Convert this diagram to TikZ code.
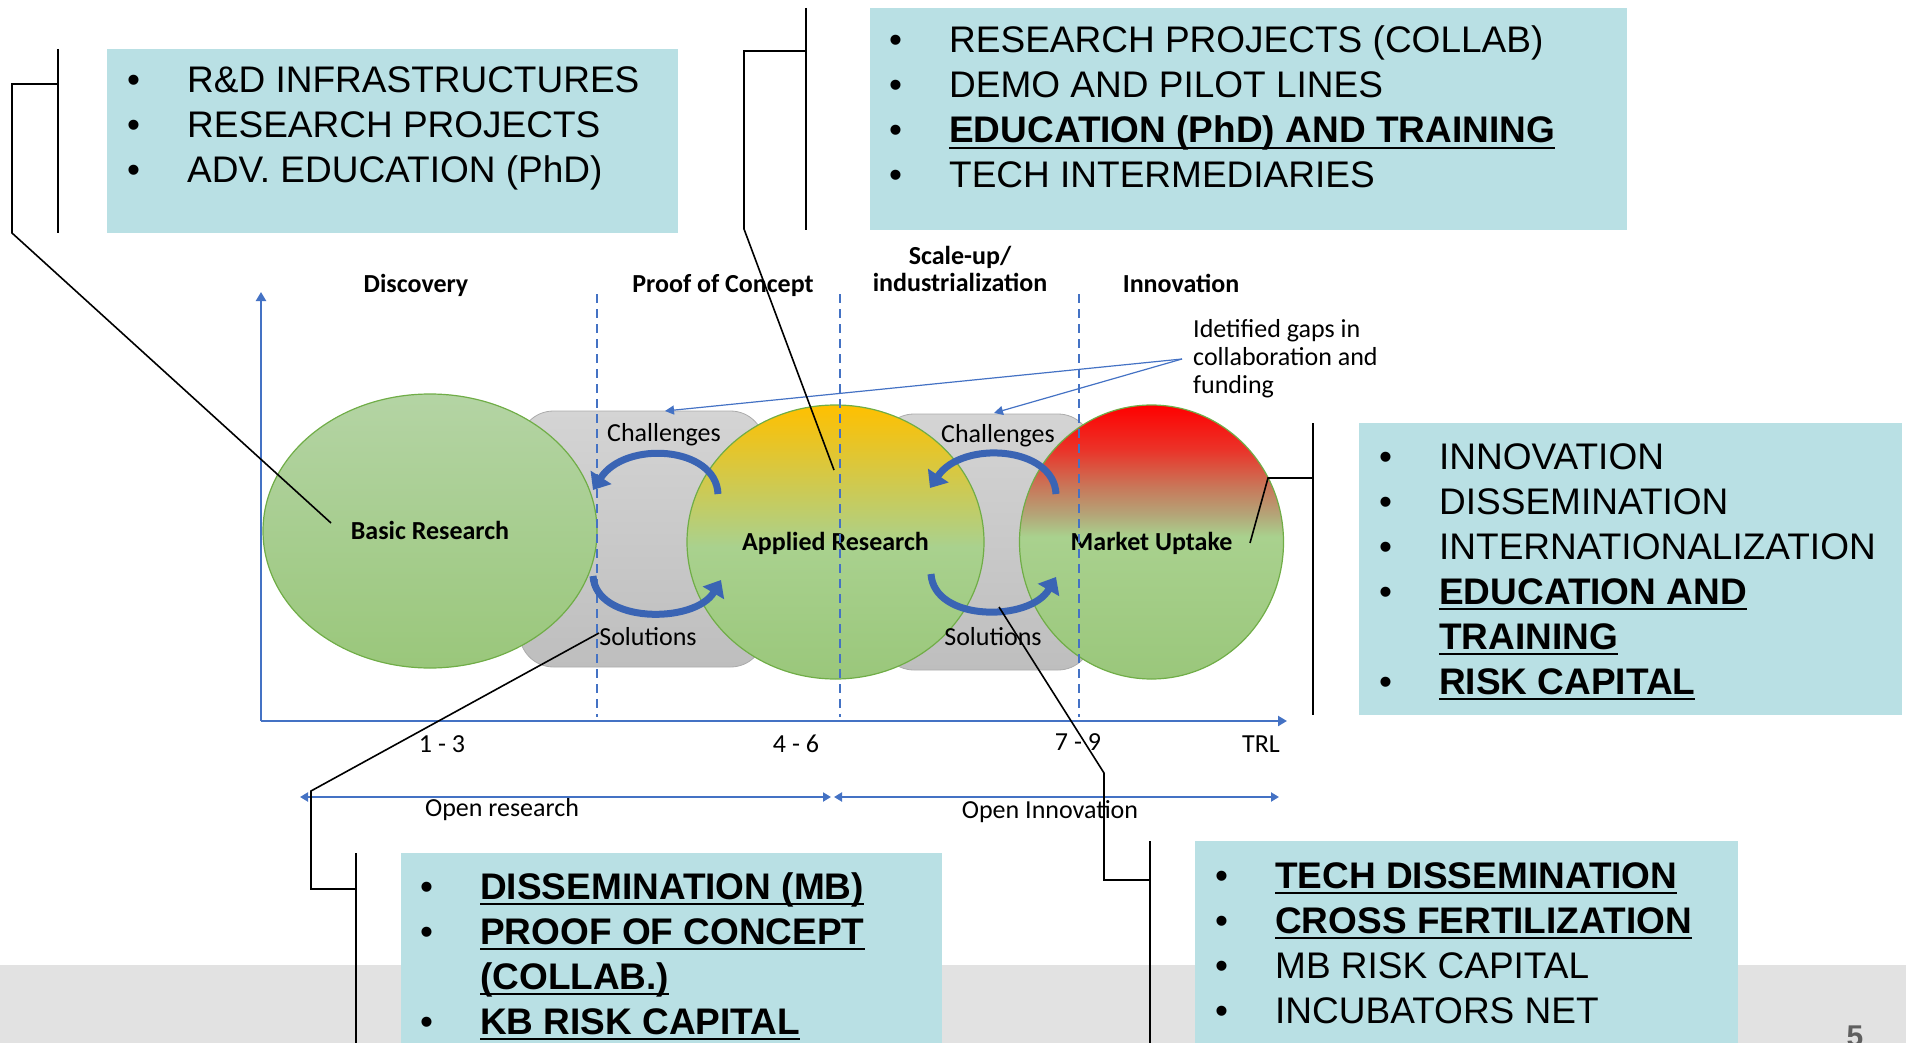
\documentclass[tikz,border=0pt]{standalone}
\usepackage{fontspec}
\setmainfont{Liberation Sans}
\newfontfamily\calibfont{Carlito}
\usetikzlibrary{arrows.meta}
\usetikzlibrary{shapes.geometric}
\definecolor{boxteal}{RGB}{185,224,228}
\definecolor{axisblue}{RGB}{68,114,196}
\definecolor{loopblue}{RGB}{58,100,180}
\definecolor{ringgreen}{RGB}{112,173,71}
\definecolor{footgray}{RGB}{226,226,226}
\definecolor{numgray}{RGB}{95,95,95}
\definecolor{greenlo}{RGB}{154,199,123}
\definecolor{greenmid}{RGB}{169,209,142}
\definecolor{greenhi}{RGB}{180,212,164}
\definecolor{amber}{RGB}{255,192,0}
\definecolor{hotred}{RGB}{255,0,0}
\definecolor{redbrown}{RGB}{235,50,40}
\definecolor{clay}{RGB}{200,120,90}
\definecolor{tan}{RGB}{180,165,120}
\definecolor{graytop}{RGB}{212,212,212}
\definecolor{graybot}{RGB}{190,190,190}
\pgfdeclareverticalshading{basicshade}{100bp}{color(0bp)=(greenlo); color(25bp)=(greenlo); color(75bp)=(greenhi); color(100bp)=(greenhi)}
\pgfdeclareverticalshading{appliedshade}{100bp}{color(0bp)=(greenlo); color(25bp)=(greenlo); color(49bp)=(greenmid); color(75bp)=(amber); color(100bp)=(amber)}
\pgfdeclareverticalshading{marketshade}{100bp}{color(0bp)=(greenlo); color(25bp)=(greenlo); color(51bp)=(greenmid); color(55bp)=(tan); color(60bp)=(clay); color(67bp)=(redbrown); color(75bp)=(hotred); color(100bp)=(hotred)}
\newcommand{\undl}[1]{\sbox0{#1}\rlap{\rule[-6pt]{\wd0}{2pt}}\usebox0}
\newcommand{\keyitem}[1]{\undl{\bfseries #1}}
\newcommand{\bul}{\makebox[60pt][l]{\textbullet}}

\begin{document}
\begin{tikzpicture}[x=1pt,y=-1pt,
    info box/.style={rectangle,fill=boxteal,anchor=north west,inner sep=0pt},
    list text/.style={anchor=base west,inner sep=0pt,font=\fontsize{37}{45}\selectfont},
    stage/.style={ellipse,draw=ringgreen,line width=1.2pt,shade,inner sep=0pt,font=\calibfont\bfseries\fontsize{26}{28}\selectfont,text height=17pt,text depth=0pt},
    gap box/.style={rectangle,rounded corners=34pt,draw=graybot!90!black,line width=0.8pt,top color=graytop,bottom color=graybot,inner sep=0pt},
    small label/.style={anchor=base,inner sep=0pt,font=\calibfont\fontsize{26}{28}\selectfont},
    head label/.style={small label,font=\calibfont\bfseries\fontsize{26}{28}\selectfont},
    axis line/.style={draw=axisblue,line width=2.5pt,-{Triangle[width=10pt,length=9pt]}},
    phase line/.style={draw=axisblue,line width=2.5pt,dash pattern=on 9pt off 6pt},
    range arrow/.style={draw=axisblue,line width=2.5pt,{Triangle[width=9pt,length=8pt]}-{Triangle[width=9pt,length=8pt]}},
    gap arrow/.style={draw=axisblue,line width=1.2pt,-{Triangle[width=9pt,length=9pt]}},
    loop arrow/.style={draw=loopblue,line width=7pt,-{Triangle[width=24pt,length=15pt]}},
    bar/.style={draw=black,line width=2.4pt},
    callout/.style={draw=black,line width=1.6pt}]
  \useasboundingbox (0,0) rectangle (1906,1043);
  % footer band
  \fill[footgray] (0,965) rectangle (1906,1043);
  \node[anchor=base,inner sep=0pt,text=numgray,font=\bfseries\fontsize{30}{32}\selectfont] (pg) at (1855,1046) {5};

  % gaps between the stages
  \node[gap box,minimum width=245pt,minimum height=256pt] (gapL) at (642,539) {};
  \node[gap box,minimum width=212pt,minimum height=256pt] (gapR) at (986,542) {};

  % stages
  \node[stage,shading=basicshade,minimum width=334pt,minimum height=274pt] (basic) at (430,531) {Basic Research};
  \node[stage,shading=appliedshade,minimum width=297pt,minimum height=274pt] (applied) at (835.5,542) {Applied Research};
  \node[stage,shading=marketshade,minimum width=264pt,minimum height=274pt] (market) at (1151.5,542) {Market Uptake};

  % axes and phase borders
  \coordinate (o) at (261,721);
  \draw[axis line] (o) -- (261,292);
  \draw[axis line] (o) -- (1287,721);
  \draw[phase line] (597,294) -- (597,717);
  \draw[phase line] (840,294) -- (840,717);
  \draw[phase line] (1079,294) -- (1079,717);

  % challenge / solution loops
  \draw[loop arrow] (718,494) .. controls (716,446) and (625,440) .. (593,490);
  \draw[loop arrow] (593,576) .. controls (596,624) and (695,624) .. (721,580);
  \draw[loop arrow] (1056,494) .. controls (1054,446) and (962,440) .. (930,488);
  \draw[loop arrow] (931,574) .. controls (934,622) and (1030,622) .. (1056,577);

  \node[small label] (chL) at (664,441) {Challenges};
  \node[small label] (soL) at (648,645) {Solutions};
  \node[small label] (chR) at (998,442) {Challenges};
  \node[small label] (soR) at (993,645) {Solutions};

  % phase headings
  \node[head label] (disc) at (416,292) {Discovery};
  \node[head label] (poc) at (723,292) {Proof of Concept};
  \node[head label] (scale) at (960,264) {\begin{tabular}[t]{@{}c@{}}Scale-up/\\industrialization\end{tabular}};
  \node[head label] (innov) at (1181,292) {Innovation};

  % TRL scale
  \node[small label] (t13) at (442,752) {1 - 3};
  \node[small label] (t46) at (796,752) {4 - 6};
  \node[small label] (t79) at (1078,750) {7 - 9};
  \node[small label] (trl) at (1261,752) {TRL};

  \coordinate (r1) at (300,797);
  \coordinate (r2) at (831,797);
  \coordinate (r3) at (834,797);
  \coordinate (r4) at (1279,797);
  \draw[range arrow] (r1) -- (r2);
  \draw[range arrow] (r3) -- (r4);
  \node[small label] (openr) at (502,816) {Open research};
  \node[small label] (openi) at (1050,818) {Open Innovation};

  % identified gaps
  \node[small label,anchor=base west] (gaps) at (1193,337) {\begin{tabular}[t]{@{}l@{}}Idetified gaps in\\collaboration and\\funding\end{tabular}};
  \coordinate (gsrc) at (1182,359);
  \coordinate (gtl) at (665,411);
  \coordinate (gtr) at (994,413);
  \draw[gap arrow] (gsrc) -- (gtl);
  \draw[gap arrow] (gsrc) -- (gtr);

  % instrument boxes
  \node[info box,minimum width=571pt,minimum height=184pt] (boxA) at (107,49) {};
  \node[list text] (listA) at (127,93) {\begin{tabular}[t]{@{}l@{}l@{}}
    \bul & R\&D INFRASTRUCTURES\\
    \bul & RESEARCH PROJECTS\\
    \bul & ADV. EDUCATION (PhD)
  \end{tabular}};

  \node[info box,minimum width=757pt,minimum height=222pt] (boxB) at (870,8) {};
  \node[list text] (listB) at (889,53) {\begin{tabular}[t]{@{}l@{}l@{}}
    \bul & RESEARCH PROJECTS (COLLAB)\\
    \bul & DEMO AND PILOT LINES\\
    \bul & \keyitem{EDUCATION (PhD) AND TRAINING}\\
    \bul & TECH INTERMEDIARIES
  \end{tabular}};

  \node[info box,minimum width=543pt,minimum height=292pt] (boxC) at (1359,423) {};
  \node[list text] (listC) at (1379,469) {\begin{tabular}[t]{@{}l@{}l@{}}
    \bul & INNOVATION\\
    \bul & DISSEMINATION\\
    \bul & INTERNATIONALIZATION\\
    \bul & \keyitem{EDUCATION AND}\\
         & \keyitem{TRAINING}\\
    \bul & \keyitem{RISK CAPITAL}
  \end{tabular}};

  \node[info box,minimum width=541pt,minimum height=190pt] (boxD) at (401,853) {};
  \node[list text] (listD) at (420,899) {\begin{tabular}[t]{@{}l@{}l@{}}
    \bul & \keyitem{DISSEMINATION (MB)}\\
    \bul & \keyitem{PROOF OF CONCEPT}\\
         & \keyitem{(COLLAB.)}\\
    \bul & \keyitem{KB RISK CAPITAL}
  \end{tabular}};

  \node[info box,minimum width=543pt,minimum height=202pt] (boxE) at (1195,841) {};
  \node[list text] (listE) at (1215,888) {\begin{tabular}[t]{@{}l@{}l@{}}
    \bul & \keyitem{TECH DISSEMINATION}\\
    \bul & \keyitem{CROSS FERTILIZATION}\\
    \bul & MB RISK CAPITAL\\
    \bul & INCUBATORS NET
  \end{tabular}};

  % callouts
  \draw[bar] (58,49) -- (58,233);
  \coordinate (a1) at (58,84);
  \coordinate (a2) at (12,84);
  \coordinate (a3) at (12,233);
  \coordinate (a4) at (331,523);
  \draw[callout] (a1) -- (a2) -- (a3) -- (a4);

  \draw[bar] (806,8) -- (806,230);
  \coordinate (b1) at (806,51);
  \coordinate (b2) at (744,51);
  \coordinate (b3) at (744,229);
  \coordinate (b4) at (834,470);
  \draw[callout] (b1) -- (b2) -- (b3) -- (b4);

  \draw[bar] (1313,423) -- (1313,715);
  \coordinate (c1) at (1313,478);
  \coordinate (c2) at (1268,478);
  \coordinate (c3) at (1250,543);
  \draw[callout] (c1) -- (c2) -- (c3);

  \draw[bar] (356,853) -- (356,1043);
  \coordinate (d1) at (356,889);
  \coordinate (d2) at (311,889);
  \coordinate (d3) at (311,791);
  \coordinate (d4) at (599,633);
  \draw[callout] (d1) -- (d2) -- (d3) -- (d4);

  \draw[bar] (1150,841) -- (1150,1043);
  \coordinate (e1) at (1150,880);
  \coordinate (e2) at (1104,880);
  \coordinate (e3) at (1104,773);
  \coordinate (e4) at (999,607);
  \draw[callout] (e1) -- (e2) -- (e3) -- (e4);
\end{tikzpicture}
\end{document}
